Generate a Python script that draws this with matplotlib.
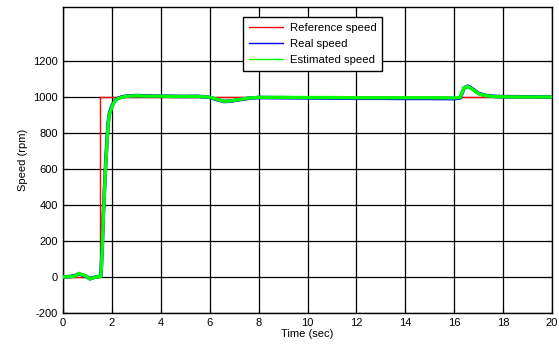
import matplotlib
matplotlib.use("Agg")
import matplotlib.pyplot as plt

plt.rcParams['font.family'] = ['Liberation Sans', 'DejaVu Sans']
plt.rcParams['axes.unicode_minus'] = False

# Reference speed (step)
ref_t = [0, 1.5, 1.5, 20]
ref_v = [0, 0, 1000, 1000]

# Real speed (rpm)
real_t = [0, 0.3, 0.5, 0.65, 0.8, 0.95, 1.1, 1.2, 1.35, 1.55, 1.6, 1.65, 1.7, 1.75, 1.8, 1.85,
          1.9, 2.0, 2.1, 2.2, 2.4, 2.6, 3.0, 3.5, 4.0, 4.5, 5.0, 5.5, 6.0, 6.3, 6.6, 6.9,
          7.2, 7.6, 8.0, 9.0, 10.0, 11.0, 12.0, 13.0, 14.0, 15.0, 16.0, 16.25, 16.4, 16.55,
          16.75, 17.0, 17.3, 17.7, 18.0, 19.0, 20.0]
real_v = [0, 3, 8, 18, 10, 4, -10, -5, 0, 5, 150, 350, 500, 640, 760, 860,
          910, 950, 975, 990, 1000, 1005, 1008, 1006, 1005, 1004, 1003, 1004, 998, 985, 975, 978,
          985, 993, 997, 996, 995, 994, 993, 993, 992, 992, 991, 995, 1050, 1060,
          1045, 1020, 1008, 1003, 1002, 1001, 1000]

# Estimated speed (rpm)
est_t = [0, 0.3, 0.5, 0.65, 0.8, 0.95, 1.1, 1.2, 1.35, 1.55, 1.6, 1.65, 1.7, 1.75, 1.8, 1.85,
         1.9, 2.0, 2.1, 2.2, 2.4, 2.6, 3.0, 3.5, 4.0, 4.5, 5.0, 5.5, 6.0, 6.3, 6.6, 6.9,
         7.2, 7.6, 8.0, 9.0, 10.0, 11.0, 12.0, 13.0, 14.0, 15.0, 16.0, 16.25, 16.4, 16.55,
         16.75, 17.0, 17.3, 17.7, 18.0, 19.0, 20.0]
est_v = [0, 2, 6, 20, 12, 5, -12, -6, 0, 4, 140, 340, 490, 630, 750, 850,
         905, 945, 972, 988, 998, 1004, 1007, 1005, 1005, 1003, 1003, 1003, 999, 987, 976, 979,
         986, 994, 998, 998, 997, 997, 996, 996, 996, 996, 995, 998, 1052, 1058,
         1043, 1018, 1007, 1002, 1001, 1000, 1000]

x_ticks = [0, 2, 4, 6, 8, 10, 12, 14, 16, 18, 20]
y_ticks = [-200, 0, 200, 400, 600, 800, 1000, 1200]

fig = plt.figure(figsize=(5.59, 3.47), dpi=100)
ax = fig.add_axes([0.1127, 0.098, 0.8748, 0.8818])

ax.plot(ref_t, ref_v, color='#ff0000', lw=1.0, label='Reference speed', zorder=3)
ax.plot(real_t, real_v, color='#0000ff', lw=2.6, label='Real speed', zorder=4)
ax.plot(est_t, est_v, color='#00ff00', lw=2.4, label='Estimated speed', zorder=5)

ax.set_xlim(0, 20)
ax.set_ylim(-200, 1500)
ax.set_xticks(x_ticks)
ax.set_yticks(y_ticks)
ax.tick_params(labelsize=8, direction='in', length=3, top=True, right=True)
ax.grid(True, color='black', linestyle='-', linewidth=0.9)
for s in ax.spines.values():
    s.set_linewidth(1.0)
ax.set_xlabel('Time (sec)', fontsize=8, labelpad=1)
ax.set_ylabel('Speed (rpm)', fontsize=8, labelpad=4)

leg = ax.legend(loc='upper left', bbox_to_anchor=(0.368, 0.967), fontsize=8.2,
                handlelength=3.0, handletextpad=0.6, borderpad=0.5, labelspacing=0.55,
                fancybox=False, framealpha=1, edgecolor='black', borderaxespad=0)
for h in leg.get_lines():
    h.set_linewidth(1.0)
leg.get_frame().set_linewidth(1.0)

fig.savefig('out.png', dpi=100)
